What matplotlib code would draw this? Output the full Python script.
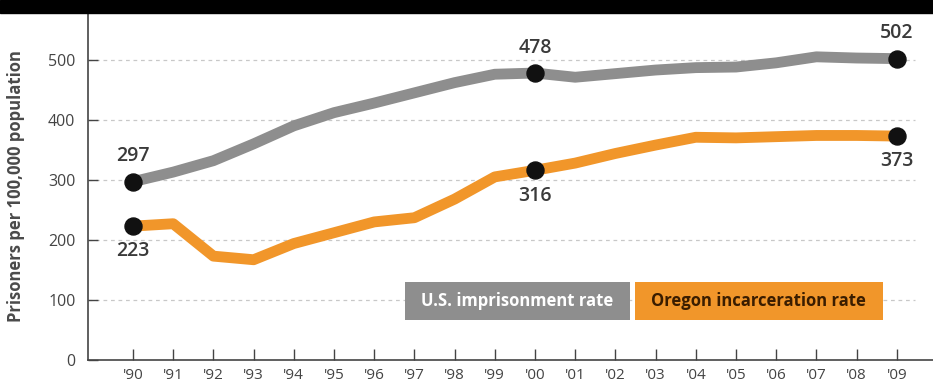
import matplotlib.pyplot as plt
from matplotlib.patches import Rectangle

# Dati
years = list(range(1990, 2010))
year_labels = ["'90", "'91", "'92", "'93", "'94", "'95", "'96", "'97", "'98", "'99",
               "'00", "'01", "'02", "'03", "'04", "'05", "'06", "'07", "'08", "'09"]
us_rate = [297, 313, 332, 360, 390, 412, 428, 445, 462, 476,
           478, 471, 477, 483, 487, 488, 495, 505, 503, 502]
oregon_rate = [223, 227, 173, 167, 194, 212, 230, 237, 268, 305,
               316, 328, 344, 358, 371, 370, 372, 374, 374, 373]
y_ticks = [0, 100, 200, 300, 400, 500]

GRAY = '#8e8e8e'
ORANGE = '#f1962a'
TEXT = '#3a3a3a'

plt.rcParams['font.family'] = ['Open Sans', 'DejaVu Sans']

fig = plt.figure(figsize=(9.33, 3.89), dpi=100)
ax = fig.add_axes([88 / 933, 29 / 389, 845 / 933, 347 / 389])

# Banda nera in alto (titolo tagliato)
fig.patches.append(Rectangle((0, 1 - 13 / 389), 1, 13 / 389, transform=fig.transFigure,
                             color='black', zorder=5))

ax.set_xlim(1990 - 45 / 40.2, 1990 + 800 / 40.2)
ax.set_ylim(0, 578)

# Griglia tratteggiata
for v in y_ticks[1:]:
    ax.plot([ax.get_xlim()[0], 2009.45], [v, v], color='#c8c8c8', lw=0.9,
            ls=(0, (3, 3)), zorder=1)

ax.plot(years, us_rate, color=GRAY, lw=7.8, solid_joinstyle='round', zorder=3)
ax.plot(years, oregon_rate, color=ORANGE, lw=7.8, solid_joinstyle='round', zorder=3)

idx = [0, 10, 19]
ax.scatter([years[i] for i in idx], [us_rate[i] for i in idx], s=150, color='#111111', zorder=4)
ax.scatter([years[i] for i in idx], [oregon_rate[i] for i in idx], s=150, color='#111111', zorder=4)

for i in idx:
    ax.annotate(str(us_rate[i]), (years[i], us_rate[i]), xytext=(0, 11),
                textcoords='offset points', ha='center', va='bottom',
                fontsize=14, color=TEXT, fontweight='semibold')
    ax.annotate(str(oregon_rate[i]), (years[i], oregon_rate[i]), xytext=(0, -11),
                textcoords='offset points', ha='center', va='top',
                fontsize=14, color=TEXT, fontweight='semibold')

# Legenda come riquadri colorati
ax.add_patch(Rectangle((0.375, 0.115), 0.266, 0.11, transform=ax.transAxes,
                       fc=GRAY, ec='none', zorder=5))
ax.add_patch(Rectangle((0.647, 0.115), 0.294, 0.11, transform=ax.transAxes,
                       fc=ORANGE, ec='none', zorder=5))
ax.text(0.508, 0.17, 'U.S. imprisonment rate', transform=ax.transAxes, ha='center',
        va='center', fontsize=12, fontweight='bold', color='white', zorder=6)
ax.text(0.794, 0.17, 'Oregon incarceration rate', transform=ax.transAxes, ha='center',
        va='center', fontsize=12, fontweight='bold', color='#3a1d00', zorder=6)

ax.set_xticks(years)
ax.set_xticklabels(year_labels)
ax.set_yticks(y_ticks)
ax.tick_params(axis='x', direction='in', length=8, width=1, color='#444444',
               labelsize=11, labelcolor='#444444', pad=6)
ax.tick_params(axis='y', direction='in', length=7, width=1, color='#444444',
               labelsize=11.5, labelcolor='#444444', pad=9)

for s in ['top', 'right']:
    ax.spines[s].set_visible(False)
for s in ['left', 'bottom']:
    ax.spines[s].set_color('#444444')
    ax.spines[s].set_linewidth(1.2)

ax.set_ylabel('Prisoners per 100,000 population', fontsize=12, color='#4a4a4a',
              fontweight='bold', labelpad=17)

fig.savefig('out.png', dpi=100)
